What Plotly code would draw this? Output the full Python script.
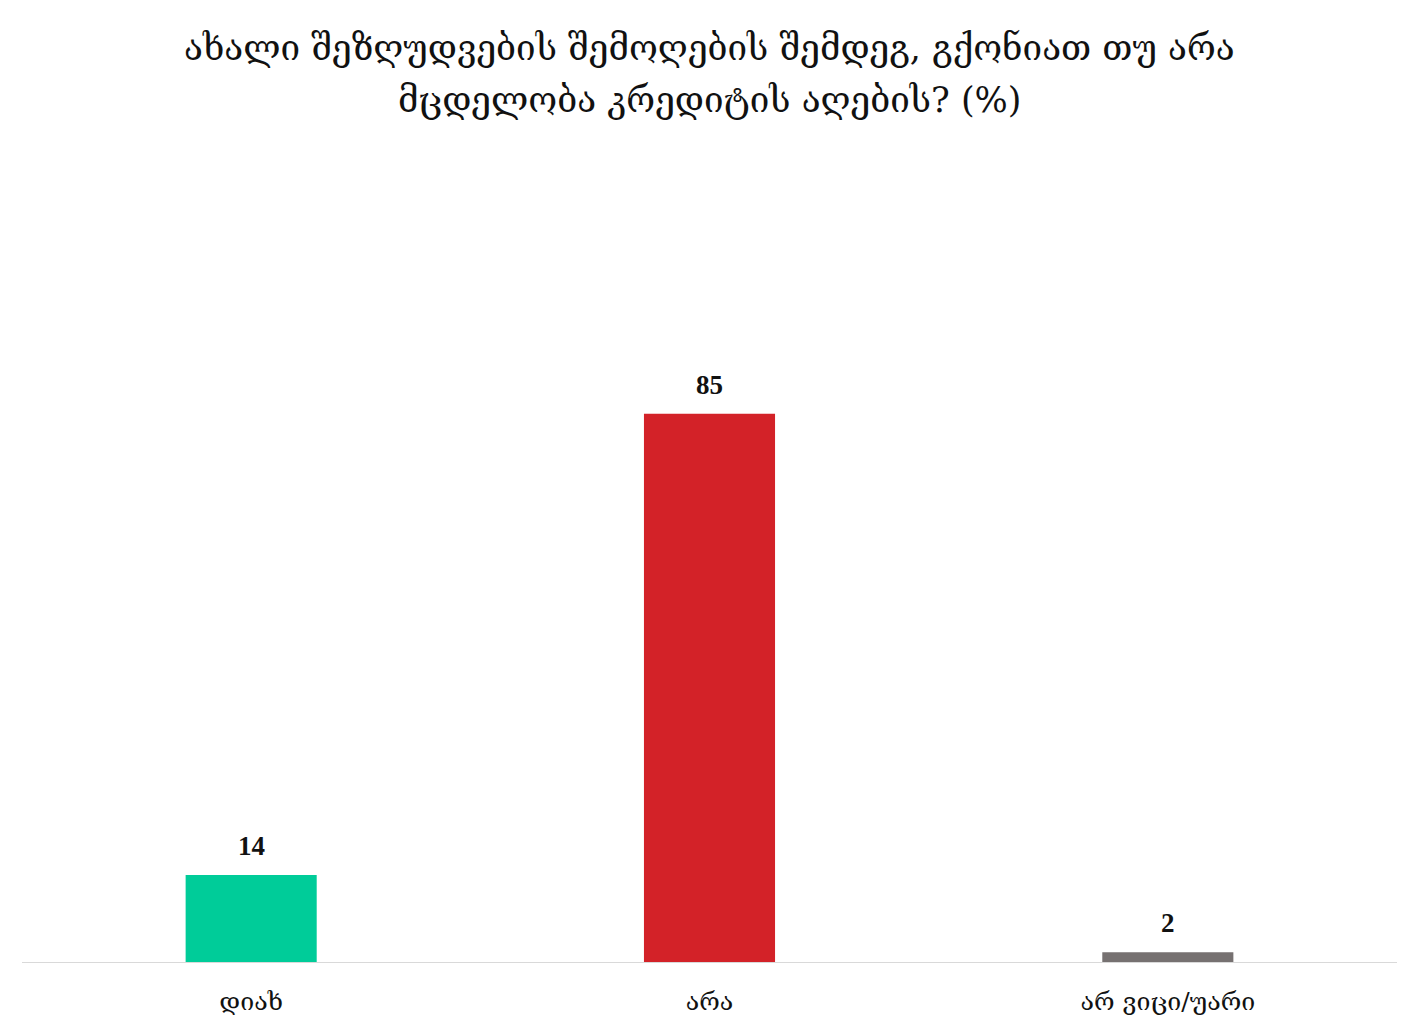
import plotly.graph_objects as go

categories = ["დიახ", "არა", "არ ვიცი/უარი"]
values = [13.5, 85, 1.5]
value_labels = ["14", "85", "2"]
colors = ["#00CC99", "#D32228", "#767171"]
title_lines = ["ახალი შეზღუდვების შემოღების შემდეგ, გქონიათ თუ არა",
               "მცდელობა კრედიტის აღების? (%)"]

fig = go.Figure(go.Bar(
    x=categories, y=values,
    marker=dict(color=colors, line=dict(width=0)),
    hoverinfo="x+y",
))
for c, v, t in zip(categories, values, value_labels):
    fig.add_annotation(x=c, y=v, text=f"<b>{t}</b>",
                       showarrow=False, yanchor="bottom", yshift=12,
                       font=dict(family="Liberation Serif", size=27, color="#111111"))

H, MT, MB = 1031, 309, 77
plot_h = H - MT - MB
for line, ypage in zip(title_lines, [48, 100]):
    yfig = ypage - 8
    fig.add_annotation(xref="paper", yref="paper", x=0.5, y=(H - MB - yfig) / plot_h,
                       xanchor="center", yanchor="middle", showarrow=False, text=line,
                       font=dict(family="DejaVu Serif", size=35, color="#111111"))

fig.update_layout(
    width=1420, height=H,
    paper_bgcolor="white", plot_bgcolor="white",
    margin=dict(l=14, r=31, t=MT, b=MB),
    bargap=0.714,
    showlegend=False,
    font=dict(family="DejaVu Serif", color="#111111"),
)
fig.update_xaxes(showline=True, linecolor="#d9d9d9", linewidth=1,
                 ticks="outside", ticklen=17, tickcolor="rgba(0,0,0,0)",
                 tickfont=dict(family="DejaVu Serif", size=25, color="#111111"))
fig.update_yaxes(range=[0, 100], visible=False, showgrid=False, zeroline=False)
fig.write_html("out.html")
